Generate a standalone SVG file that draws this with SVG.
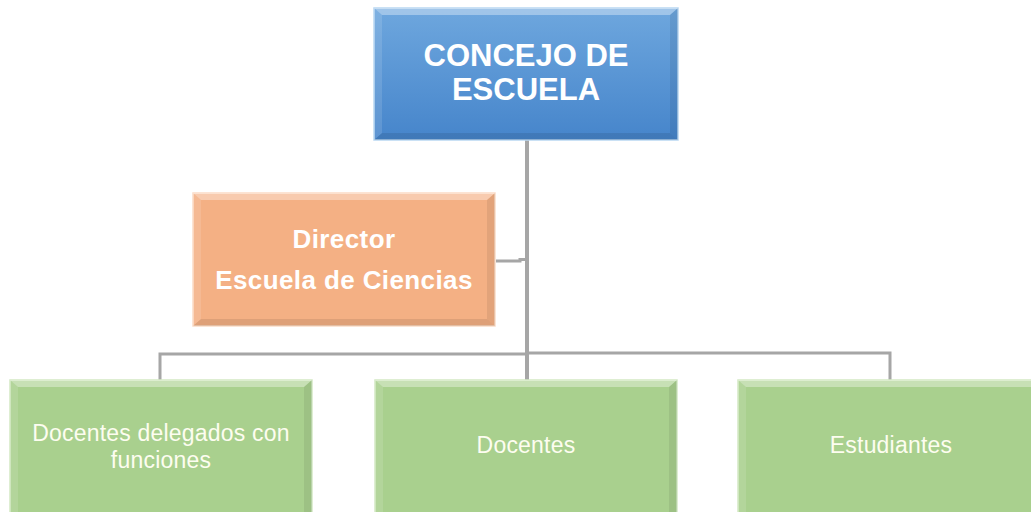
<svg xmlns="http://www.w3.org/2000/svg" width="1031" height="512" viewBox="0 0 1031 512">
<defs>
<linearGradient id="gBlue" x1="0" y1="0" x2="0" y2="1">
<stop offset="0" stop-color="#6ea7de"/>
<stop offset="1" stop-color="#4685cb"/>
</linearGradient>
<style>
.hi{fill:#ffffff;fill-opacity:0.35}
.lf{fill:#ffffff;fill-opacity:0.12}
.rt{fill:#000000;fill-opacity:0.07}
.bt{fill:#000000;fill-opacity:0.09}
.conn{fill:none;stroke:#a6a6a6;stroke-linejoin:miter}
.t1{font-family:"Liberation Sans",Arial,sans-serif;font-weight:bold;font-size:31px;fill:#ffffff;text-anchor:middle}
.t2{font-family:"Liberation Sans",Arial,sans-serif;font-weight:bold;font-size:26px;letter-spacing:0.4px;fill:#ffffff;text-anchor:middle}
.t3{font-family:"Liberation Sans",Arial,sans-serif;font-size:23px;letter-spacing:0.2px;fill:#fdfdf0;text-anchor:middle}
</style>
</defs>
<rect width="1031" height="512" fill="#ffffff"/>
<g id="connectors">
<path class="conn" stroke-width="4" d="M527 140 V512"/>
<path class="conn" stroke-width="3" d="M496 261 H520 V259.5 H527"/>
<path class="conn" stroke-width="3" d="M160 380 V354 H527 M527 353 H890 V380"/>
</g>
<g id="concejo">
<rect x="374" y="8" width="304" height="132" fill="url(#gBlue)" stroke="#b9d7f2" stroke-width="1.5"/>
<polygon class="hi" points="374,8 678,8 670,15 382,15"/>
<polygon class="lf" points="374,8 382,15 382,133 374,140"/>
<polygon class="rt" points="678,8 670,15 670,133 678,140"/>
<polygon class="bt" points="374,140 382,133 670,133 678,140"/>
<text class="t1" x="526" y="66">CONCEJO DE</text>
<text class="t1" x="526" y="100">ESCUELA</text>
</g>
<g id="director">
<rect x="193" y="193" width="302" height="133" fill="#f4b084" stroke="#fbdcc6" stroke-width="1.5"/>
<polygon class="hi" points="193,193 495,193 487,200 201,200"/>
<polygon class="lf" points="193,193 201,200 201,319 193,326"/>
<polygon class="rt" points="495,193 487,200 487,319 495,326"/>
<polygon class="bt" points="193,326 201,319 487,319 495,326"/>
<text class="t2" x="344" y="248">Director</text>
<text class="t2" x="344" y="289">Escuela de Ciencias</text>
</g>
<g id="docentes-delegados">
<rect x="10" y="380" width="302" height="140" fill="#a9d08e" stroke="#d3e9c4" stroke-width="1.5"/>
<polygon class="hi" points="10,380 312,380 304,387 18,387"/>
<polygon class="lf" points="10,380 18,387 18,520 10,520"/>
<polygon class="rt" points="312,380 304,387 304,520 312,520"/>
<text class="t3" x="161" y="441">Docentes delegados con</text>
<text class="t3" x="161" y="468">funciones</text>
</g>
<g id="docentes">
<rect x="375" y="380" width="302" height="140" fill="#a9d08e" stroke="#d3e9c4" stroke-width="1.5"/>
<polygon class="hi" points="375,380 677,380 669,387 383,387"/>
<polygon class="lf" points="375,380 383,387 383,520 375,520"/>
<polygon class="rt" points="677,380 669,387 669,520 677,520"/>
<text class="t3" x="526" y="453">Docentes</text>
</g>
<g id="estudiantes">
<rect x="738" y="380" width="304" height="140" fill="#a9d08e" stroke="#d3e9c4" stroke-width="1.5"/>
<polygon class="hi" points="738,380 1042,380 1034,387 746,387"/>
<polygon class="lf" points="738,380 746,387 746,520 738,520"/>
<text class="t3" x="891" y="453">Estudiantes</text>
</g>
</svg>
